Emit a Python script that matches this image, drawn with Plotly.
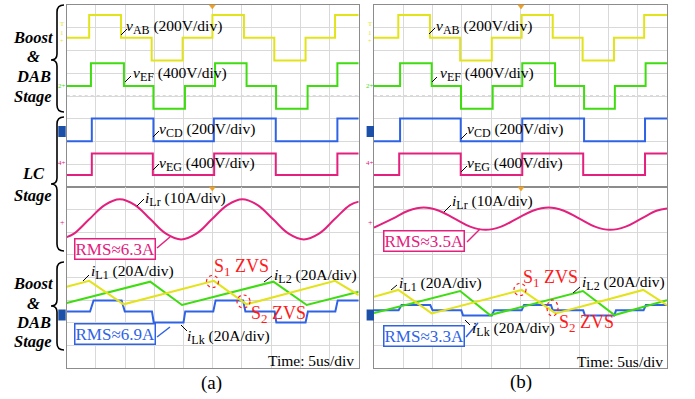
import numpy as np
import plotly.graph_objects as go

W, H = 695, 399
FONT = "Liberation Serif"

# ---------------- waveform data (time in us, 5 us/div) ----------------
# Panel (a): voltages, step waveforms -> switching instants and levels
vab_a_t = [0, 3.85, 9.3, 14.55, 19.85, 24.95, 30.35, 35.55, 40.9, 45.95, 50]
vab_a_v = [0, 200, 0, -200, 0, 200, 0, -200, 0, 200, 200]
vef_a_t = [0, 4.15, 9.8, 14.85, 20.25, 25.4, 30.8, 35.85, 41.25, 46.35, 50]
vef_a_v = [0, 400, 0, -400, 0, 400, 0, -400, 0, 400, 400]
vcd_a_t = [0, 4.3, 14.85, 25.2, 35.8, 46.35, 50]
vcd_a_v = [-100, 100, -100, 100, -100, 100, 100]
veg_a_t = [0, 4.3, 14.75, 25.25, 35.8, 46.35, 50]
veg_a_v = [-190, 190, -190, 190, -190, 190, 190]

# Panel (b): voltages
vab_b_t = [0, 4.15, 9.55, 14.7, 20.1, 25.2, 30.5, 35.6, 40.95, 46.1, 50]
vab_b_v = [0, 200, 0, -200, 0, 200, 0, -200, 0, 200, 200]
vef_b_t = [0, 4.45, 9.85, 14.85, 20.25, 25.3, 30.9, 35.85, 41.1, 46.35, 50]
vef_b_v = [0, 400, 0, -400, 0, 400, 0, -400, 0, 400, 400]
vcd_b_t = [0, 4.45, 14.8, 25.3, 35.85, 46.25, 50]
vcd_b_v = [-100, 100, -100, 100, -100, 100, 100]
veg_b_t = [0, 4.3, 14.8, 25.3, 35.7, 46.25, 50]
veg_b_v = [-190, 190, -190, 190, -190, 190, 190]

# Resonant current i_Lr, sampled every 1/8 period (per-unit of its peak)
RMS_LR_A, RMS_LR_B = 6.3, 3.5
ilr_a_t = [0, 1.25, 3.85, 6.5, 9.1, 11.7, 14.35, 17.0, 19.6, 22.2, 24.85,
           27.5, 30.1, 32.7, 35.35, 38.0, 40.6, 43.2, 45.85, 48.5, 50]
ilr_a_pu = [-0.88, -0.71, 0, 0.71, 1, 0.71, 0, -0.71, -1, -0.71, 0,
            0.71, 1, 0.71, 0, -0.71, -1, -0.71, 0, 0.71, 0.88]
ilr_b_t = [0, 3.2, 5.85, 8.5, 11.1, 13.75, 16.4, 19.05, 21.7, 24.4,
           27.1, 29.8, 32.4, 35.05, 37.7, 40.3, 42.95, 45.6, 48.2, 50]
ilr_b_pu = [-0.8, 0, 0.71, 1, 0.71, 0, -0.71, -1, -0.71, 0,
            0.71, 1, 0.71, 0, -0.71, -1, -0.71, 0, 0.71, 0.91]

# Boost inductor currents (A)
il1_a_t = [0, 3.85, 9.75, 25.2, 30.8, 45.95, 50]
il1_a_v = [21.9, 27.0, 6.3, 27.0, 6.3, 27.0, 14.5]
il2_a_t = [0, 14.3, 19.75, 35.4, 41.1, 50]
il2_a_v = [7.4, 26.3, 5.7, 26.3, 5.7, 17.4]
il1_b_t = [0, 4.15, 9.85, 25.2, 31.0, 45.95, 50]
il1_b_v = [12.0, 18.0, -2.7, 18.0, -2.7, 18.0, 4.5]
il2_b_t = [0, 14.7, 19.8, 35.65, 41.05, 50]
il2_b_v = [-2.5, 17.0, -4.2, 17.0, -4.2, 9.0]

# DAB leakage current i_Lk: staircase (per-unit of its step height)
RMS_LK_A, RMS_LK_B = 6.9, 3.3
ilk_a_t = [0, 4.0, 4.6, 9.4, 9.95, 14.6, 14.9, 20.0, 20.3, 25.1, 25.5,
           30.2, 30.6, 35.6, 35.9, 40.9, 41.3, 46.0, 46.4, 50]
ilk_b_t = [0, 4.2, 4.7, 9.6, 10.0, 14.9, 15.2, 20.1, 20.5, 25.2, 25.6,
           30.2, 30.5, 35.7, 36.0, 41.0, 41.3, 46.0, 46.4, 50]
ilk_step = [0, 0, 1, 1, 0, 0, -1, -1, 0, 0, 1, 1, 0, 0, -1, -1, 0, 0, 1, 1]

# ---------------- colours ----------------
YEL = "#e3e31c"
GRN = "#3fdc10"
BLU = "#2f63e6"
MAG = "#e3207e"
RED = "#ff1a1a"

# ---------------- axes geometry ----------------
def px(x):
    return x / W


def py(y):
    return 1 - y / H


XA = [px(66.7), px(358.7)]
XB = [px(374.0), px(667.0)]
YT = [py(187), py(5)]
YB = [py(368), py(187)]

fig = go.Figure()


def add(t, v, scale, offset, color, xa, ya, shape="linear"):
    y = offset + np.asarray(v, dtype=float) / scale
    line = dict(color=color, width=2, shape=shape)
    if shape == "spline":
        line["smoothing"] = 1.1
    fig.add_trace(go.Scatter(
        x=t, y=y, mode="lines", xaxis=xa, yaxis=ya, line=line,
        hoverinfo="skip", showlegend=False))


# Panel (a) top: voltages
add(vab_a_t, vab_a_v, 200, 2.56, YEL, "x", "y", "hv")
add(vef_a_t, vef_a_v, 400, 0.44, GRN, "x", "y", "hv")
add(vcd_a_t, vcd_a_v, 200, -1.49, BLU, "x", "y", "hv")
add(veg_a_t, veg_a_v, 400, -3.0, MAG, "x", "y", "hv")
# Panel (a) bottom: currents
add(ilr_a_t, np.array(ilr_a_pu) * RMS_LR_A * np.sqrt(2), 10, 2.57, MAG, "x2", "y2", "spline")
add(ilk_a_t, np.array(ilk_step) * RMS_LK_A * np.sqrt(2), 20, -1.5, BLU, "x2", "y2")
add(il2_a_t, il2_a_v, 20, -1.5, GRN, "x2", "y2")
add(il1_a_t, il1_a_v, 20, -1.5, YEL, "x2", "y2")
# Panel (b) top
add(vab_b_t, vab_b_v, 200, 2.56, YEL, "x3", "y3", "hv")
add(vef_b_t, vef_b_v, 400, 0.44, GRN, "x3", "y3", "hv")
add(vcd_b_t, vcd_b_v, 200, -1.49, BLU, "x3", "y3", "hv")
add(veg_b_t, veg_b_v, 400, -3.0, MAG, "x3", "y3", "hv")
# Panel (b) bottom
add(ilr_b_t, np.array(ilr_b_pu) * RMS_LR_B * np.sqrt(2), 10, 2.6, MAG, "x4", "y4", "spline")
add(ilk_b_t, np.array(ilk_step) * RMS_LK_B * np.sqrt(2), 20, -1.45, BLU, "x4", "y4")
add(il2_b_t, il2_b_v, 20, -1.45, GRN, "x4", "y4")
add(il1_b_t, il1_b_v, 20, -1.45, YEL, "x4", "y4")

# ---------------- axes ----------------
GRID = "#d9d9d9"
FRAME = "#8c8c8c"
xcommon = dict(range=[0, 50], dtick=5, showgrid=True, gridcolor=GRID, gridwidth=1,
               zeroline=False, showticklabels=False, ticks="", showline=True,
               mirror=True, linecolor=FRAME, linewidth=1, fixedrange=True)
ycommon = dict(range=[-4, 4], dtick=1, showgrid=True, gridcolor=GRID, gridwidth=1,
               zeroline=False, showticklabels=False, ticks="", showline=True,
               mirror=True, linecolor=FRAME, linewidth=1, fixedrange=True)

layout = dict(
    width=W, height=H, margin=dict(l=0, r=0, t=0, b=0),
    paper_bgcolor="white", plot_bgcolor="white", showlegend=False,
    xaxis=dict(domain=XA, anchor="y", **xcommon),
    yaxis=dict(domain=YT, anchor="x", **ycommon),
    xaxis2=dict(domain=XA, anchor="y2", **xcommon),
    yaxis2=dict(domain=YB, anchor="x2", **ycommon),
    xaxis3=dict(domain=XB, anchor="y3", **xcommon),
    yaxis3=dict(domain=YT, anchor="x3", **ycommon),
    xaxis4=dict(domain=XB, anchor="y4", **xcommon),
    yaxis4=dict(domain=YB, anchor="x4", **ycommon),
)
fig.update_layout(**layout)

annotations = []
shapes = []

# dotted centre line of each screen section
for xr, yr in [("x", "y"), ("x2", "y2"), ("x3", "y3"), ("x4", "y4")]:
    shapes.append(dict(type="line", xref=xr, yref=yr, x0=0, x1=50, y0=0, y1=0,
                       line=dict(color="#b4b4b4", width=1, dash="dot"), layer="below"))


def text(x, y, s, size=15.5, color="black", xanchor="left", yanchor="middle"):
    annotations.append(dict(x=px(x), y=py(y), xref="paper", yref="paper",
                            text=s, showarrow=False, xanchor=xanchor, yanchor=yanchor,
                            font=dict(family=FONT, size=size, color=color)))


def seg(x0, y0, x1, y1, color="black", width=1):
    shapes.append(dict(type="line", xref="paper", yref="paper",
                       x0=px(x0), y0=py(y0), x1=px(x1), y1=py(y1),
                       line=dict(color=color, width=width)))


def ring(cx, cy, rx, ry):
    shapes.append(dict(type="circle", xref="paper", yref="paper",
                       x0=px(cx - rx), x1=px(cx + rx), y0=py(cy + ry), y1=py(cy - ry),
                       line=dict(color=RED, width=1.2, dash="dot")))


def box(cx, cy, s, color):
    annotations.append(dict(x=px(cx), y=py(cy), xref="paper", yref="paper",
                            text=s, showarrow=False, xanchor="center", yanchor="middle",
                            bordercolor=color, borderwidth=1.5, borderpad=0,
                            bgcolor="white",
                            font=dict(family=FONT, size=17, color=color)))


def brace(x, top, bot, mid):
    pts = [(x + 7, top), (x, top), (x, top + 7), (x, mid - 6), (x, mid), (x - 6, mid),
           (x, mid), (x, mid + 6), (x, bot - 7), (x, bot), (x + 7, bot)]
    f = lambda p: f"{px(p[0]):.5f},{py(p[1]):.5f}"
    path = (f"M {f(pts[0])} Q {f(pts[1])} {f(pts[2])} L {f(pts[3])} Q {f(pts[4])} {f(pts[5])} "
            f"Q {f(pts[6])} {f(pts[7])} L {f(pts[8])} Q {f(pts[9])} {f(pts[10])}")
    shapes.append(dict(type="path", xref="paper", yref="paper", path=path,
                       line=dict(color="black", width=1.6)))


def trig(x, y):
    d = lambda a, b: f"{px(a):.5f},{py(b):.5f}"
    shapes.append(dict(type="path", xref="paper", yref="paper",
                       path=f"M {d(x - 3, y)} L {d(x + 3, y)} L {d(x, y + 4)} Z",
                       fillcolor="#f0a020", line=dict(color="#f0a020", width=0.5)))


def chan_box(x, y):
    shapes.append(dict(type="rect", xref="paper", yref="paper",
                       x0=px(x - 3.7), x1=px(x + 3.7), y0=py(y + 5.5), y1=py(y - 5.5),
                       fillcolor="#1c4fa8", line=dict(width=0)))


# Stage labels and braces on the left
for y, s in [(37.7, "Boost"), (56.7, "&"), (76.7, "DAB"), (96, "Stage"),
             (173.3, "LC"), (195, "Stage"),
             (283.3, "Boost"), (303.3, "&"), (322.7, "DAB"), (341.7, "Stage")]:
    text(33, y, f"<b><i>{s}</i></b>", size=16.5, xanchor="center")
brace(57, 5, 112, 60)
brace(57, 117, 251, 184)
brace(57, 262, 350, 306)

# Channel labels
V = "<i>v</i>"
I = "<i>i</i>"


def sub(s):
    return f"<sub><span style='font-size:12px'>{s}</span></sub>"


labels = [
    (124, 27, f"{V}{sub('AB')} (200V/div)"), (131, 74, f"{V}{sub('EF')} (400V/div)"),
    (157, 130, f"{V}{sub('CD')} (200V/div)"), (157, 164, f"{V}{sub('EG')} (400V/div)"),
    (434, 27, f"{V}{sub('AB')} (200V/div)"), (438, 74, f"{V}{sub('EF')} (400V/div)"),
    (465, 130, f"{V}{sub('CD')} (200V/div)"), (465, 164, f"{V}{sub('EG')} (400V/div)"),
    (143, 199, f"{I}{sub('Lr')} (10A/div)"), (450, 202, f"{I}{sub('Lr')} (10A/div)"),
    (89, 272, f"{I}{sub('L1')} (20A/div)"), (397, 284, f"{I}{sub('L1')} (20A/div)"),
    (272, 276, f"{I}{sub('L2')} (20A/div)"), (580, 283, f"{I}{sub('L2')} (20A/div)"),
    (185, 337, f"{I}{sub('Lk')} (20A/div)"), (470, 329, f"{I}{sub('Lk')} (20A/div)"),
]
for x, y, s in labels:
    text(x, y, s)

leaders = [(121, 35, 127, 29), (125, 82, 131, 76), (153, 137, 159, 131), (153, 170, 159, 164),
           (429, 34, 435, 28), (432, 82, 437, 77), (461, 139, 467, 133), (461, 172, 467, 166),
           (137, 206, 144, 199), (444, 212, 451, 205), (83, 281, 89, 275), (391, 290, 397, 285),
           (264, 282, 272, 276), (573, 293, 580, 287), (181, 325, 187, 331), (465, 320, 470, 325)]
for l in leaders:
    seg(*l)

# RMS boxes with their pointers
box(114.5, 249, f"RMS≈{RMS_LR_A}A", MAG)
box(114.5, 333.7, f"RMS≈{RMS_LK_A}A", BLU)
box(424.2, 240.8, f"RMS≈{RMS_LR_B}A", MAG)
box(423.8, 335.8, f"RMS≈{RMS_LK_B}A", BLU)
seg(157, 248, 170, 237, MAG, 1.5)
seg(157, 337, 170, 327, BLU, 1.5)
seg(467, 242, 480, 229, MAG, 1.5)
seg(466, 337, 478, 323, BLU, 1.5)

# ZVS markers
ZS = "<sub><span style='font-size:13px'>{}</span></sub>"
text(212, 267.5, f"S{ZS.format(1)} ZVS", size=18, color=RED)
text(249, 314, f"S{ZS.format(2)} ZVS", size=18, color=RED)
text(521, 278, f"S{ZS.format(1)} ZVS", size=18, color=RED)
text(557, 323, f"S{ZS.format(2)} ZVS", size=18, color=RED)
ring(212.5, 281.5, 6, 6)
ring(243.5, 301.5, 6.5, 6.5)
ring(520, 289.5, 6, 6)
ring(552.5, 308, 5.5, 8)

# Time base and panel captions
text(356, 360, "Time: 5us/div", xanchor="right")
text(665, 361.5, "Time: 5us/div", xanchor="right")
text(211, 383, "(a)", size=19, xanchor="center")
text(520.5, 382, "(b)", size=19, xanchor="center")

# Trigger, channel-offset and channel markers
for x in (212.3, 521):
    trig(x, 5)
    trig(x, 187)
for x in (62, 370.3):
    chan_box(x, 131.5)
    chan_box(x, 315)
    text(x, 24, "T", size=7, color=YEL, xanchor="center")
    text(x, 37, "1<br>+", size=6, color=YEL, xanchor="center")
    text(x, 86, "2+", size=7, color=GRN, xanchor="center")
    text(x, 163, "4+", size=7, color=MAG, xanchor="center")
    text(x, 222, "+", size=8, color=MAG, xanchor="center")

fig.update_layout(annotations=annotations, shapes=shapes)
fig.write_html("out.html")
